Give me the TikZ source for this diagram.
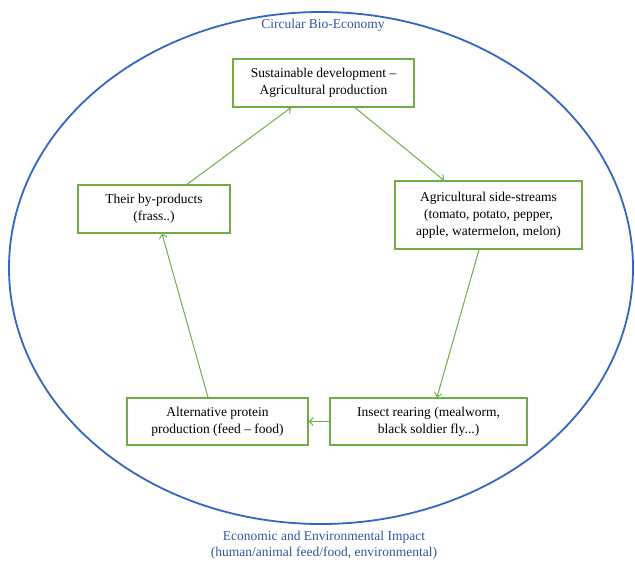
\documentclass[tikz,border=0pt]{standalone}
\usepackage{fontspec}
\setmainfont{Liberation Serif}
\usetikzlibrary{arrows.meta}
\definecolor{boxgreen}{RGB}{112,173,71}
\definecolor{ringblue}{RGB}{50,102,192}
\definecolor{labelblue}{RGB}{47,85,160}
\tikzset{
  stagebox/.style={draw=boxgreen, line width=1.3pt, rectangle, align=center, inner sep=0pt,
    font=\fontsize{13.5}{17}\selectfont, text=black},
  flow/.style={draw=boxgreen, line width=1pt, -{Straight Barb[length=4pt,width=8pt]}},
  ringlabel/.style={text=labelblue, align=center, font=\fontsize{13.5}{16.5}\selectfont}
}
\begin{document}
\begin{tikzpicture}[x=1pt,y=-1pt]
\useasboundingbox (0,0) rectangle (635,562);
\draw[ringblue, line width=1.8pt] (321,268) ellipse [x radius=312, y radius=256];
\node[ringlabel] (title) at (323,25) {Circular Bio-Economy};
\node[ringlabel] (impact) at (324,545) {Economic and Environmental Impact\\(human/animal feed/food, environmental)};

\node[stagebox, minimum width=181pt, minimum height=48pt] (top) at (323.5,83) {Sustainable development --\\Agricultural production};
\node[stagebox, minimum width=152pt, minimum height=48pt] (byp) at (154,209) {Their by-products\\(frass..)};
\node[stagebox, minimum width=187pt, minimum height=68pt] (side) at (488.5,215) {Agricultural side-streams\\(tomato, potato, pepper,\\apple, watermelon, melon)};
\node[stagebox, minimum width=181pt, minimum height=47pt] (alt) at (217.5,421.5) {Alternative protein\\production (feed -- food)};
\node[stagebox, minimum width=197pt, minimum height=47pt] (insect) at (428.5,421.5) {Insect rearing (mealworm,\\black soldier fly...)};

\draw[flow] ([xshift=33pt]byp.north) -- ([xshift=-32.5pt]top.south);
\draw[flow] ([xshift=31.5pt]top.south) -- ([xshift=-44.5pt]side.north);
\draw[flow] ([xshift=-9.5pt]side.south) -- ([xshift=8.5pt]insect.north);
\draw[flow] (insect.west) -- (alt.east);
\draw[flow] ([xshift=-9.5pt]alt.north) -- ([xshift=8pt]byp.south);
\end{tikzpicture}
\end{document}
